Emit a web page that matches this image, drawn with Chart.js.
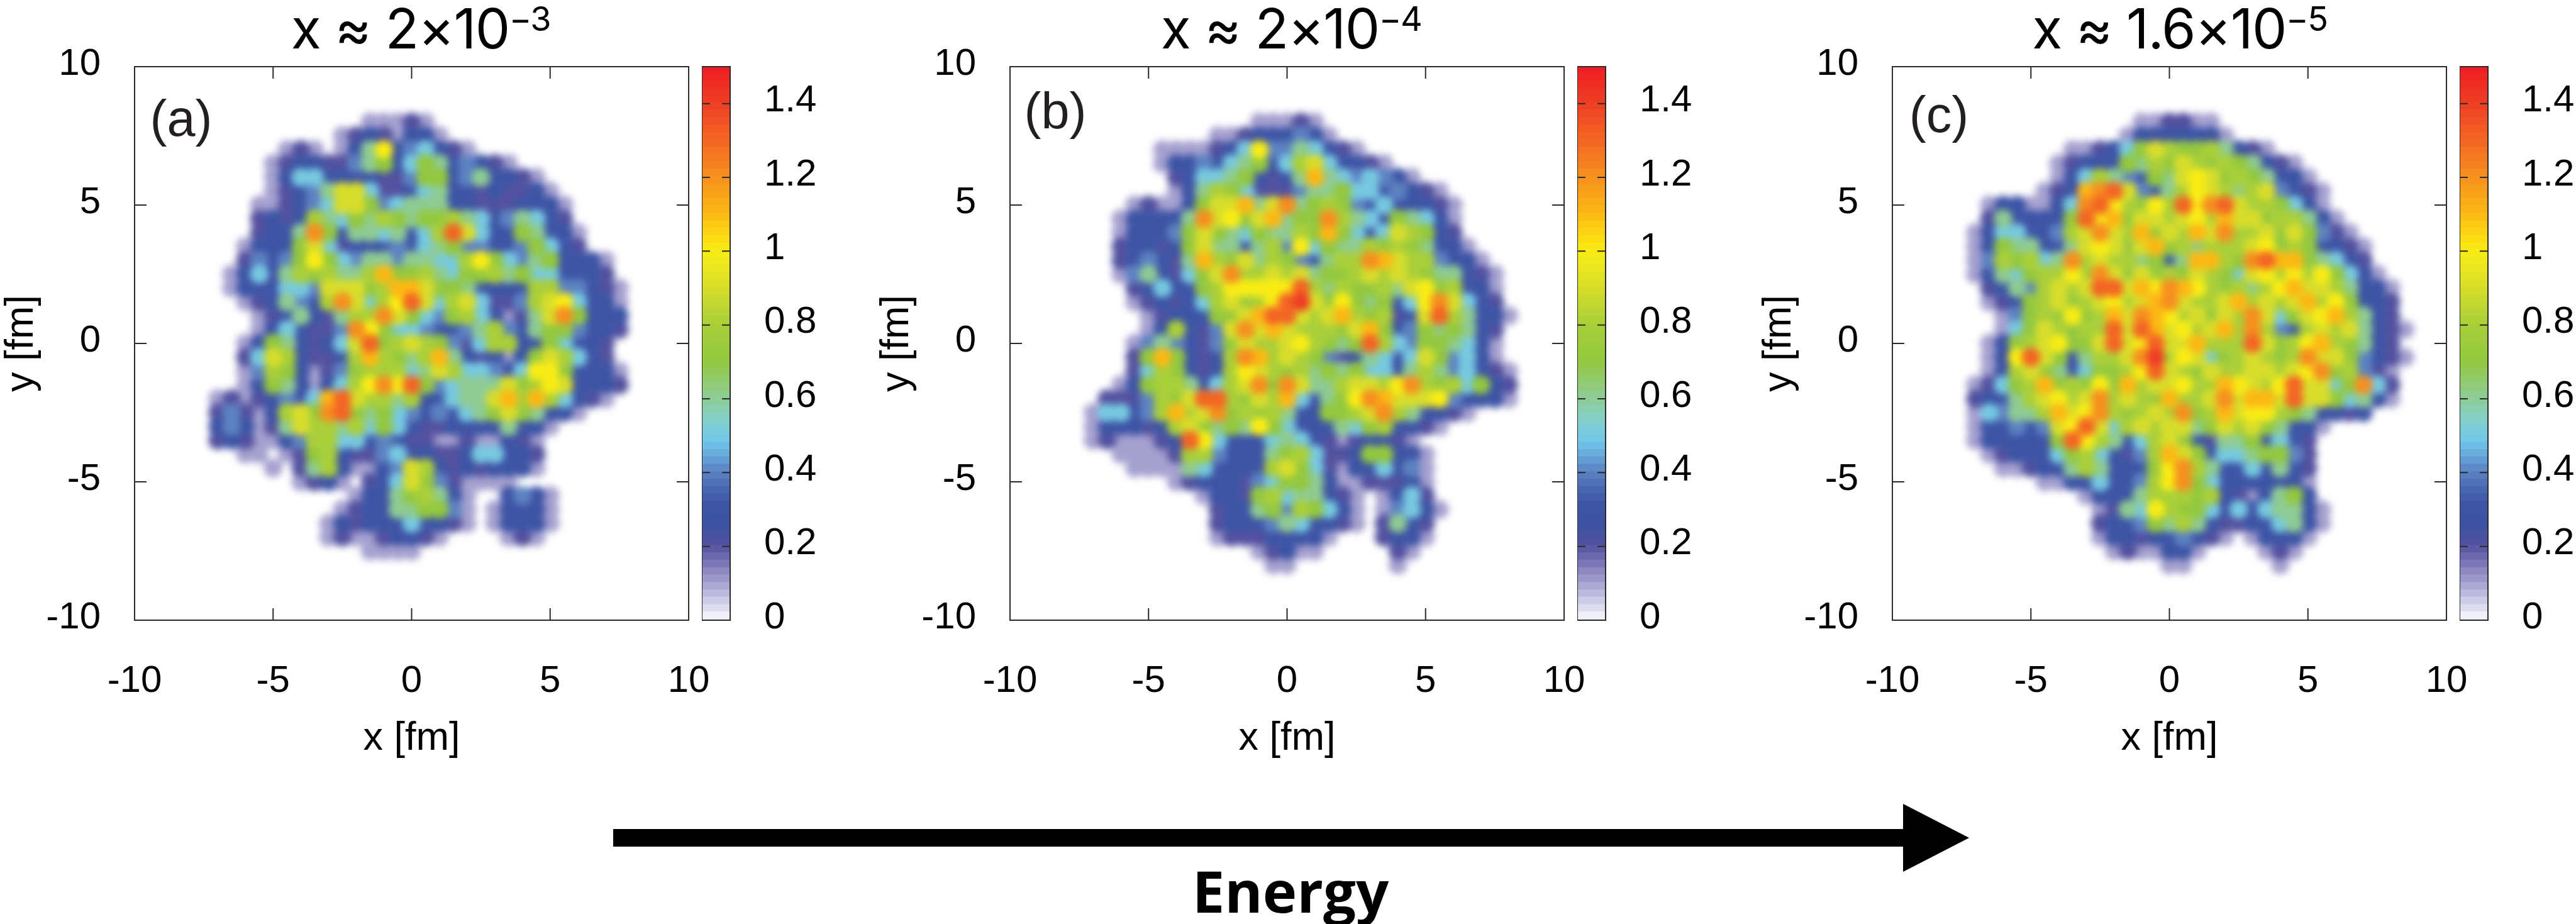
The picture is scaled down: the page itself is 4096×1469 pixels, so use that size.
<!DOCTYPE html>
<html>
<head>
<meta charset="utf-8">
<title>Energy evolution</title>
<script src="https://cdn.jsdelivr.net/npm/chart.js"></script>
<style>
  html, body { margin: 0; padding: 0; background: #fff; width: 4096px; height: 1469px; overflow: hidden; }
  canvas { position: absolute; }
  .panel-title { position: absolute; top: -5px; transform: translateX(-50%); font: 400 88px/100px Inter, sans-serif; color: #000; white-space: nowrap; letter-spacing: -1.5px; }
  .panel-title span { position: relative; top: -28px; font-size: 54px; }
  .panel-tag { position: absolute; transform: translate(-50%, -50%); font: 400 81px/100px "Liberation Sans", sans-serif; color: #231f20; }
  #energy { position: absolute; left: 2052px; top: 1366px; transform: translateX(-50%); font: 700 92px/100px "Open Sans", sans-serif; color: #000; }
  #arrow { position: absolute; left: 0; top: 0; }
</style>
</head>
<body>
<svg id="arrow" width="4096" height="1469"><polygon fill="#000" points="975,1318 3026,1318 3026,1278 3131,1332 3026,1386 3026,1346 975,1346"/></svg>
<div id="energy">Energy</div>
<script>
// axis ticks
const xTicks = [-10, -5, 0, 5, 10];
const yTicks = [-10, -5, 0, 5, 10];
const barTicks = [0, 0.2, 0.4, 0.6, 0.8, 1, 1.2, 1.4];

// cell centres in fm
const colX = [-8, -7.5, -7, -6.5, -6, -5.5, -5, -4.5, -4, -3.5, -3, -2.5, -2, -1.5, -1, -0.5, 0, 0.5, 1, 1.5, 2, 2.5, 3, 3.5, 4, 4.5, 5, 5.5, 6, 6.5, 7, 7.5, 8, 8.5];
const rowY = [8.5, 8, 7.5, 7, 6.5, 6, 5.5, 5, 4.5, 4, 3.5, 3, 2.5, 2, 1.5, 1, 0.5, 0, -0.5, -1, -1.5, -2, -2.5, -3, -3.5, -4, -4.5, -5, -5.5, -6, -6.5, -7, -7.5, -8, -8.5];

// density in tenths, one row per rowY (missing trailing cells are empty)
const densityA = [
[],
[0,0,0,0,0,0,0,0,0,0,0,0,0,1,1,1,2,1],
[0,0,0,0,0,0,0,0,0,0,0,1,2,3,2,1,3,3,1],
[0,0,0,0,0,0,0,1,2,1,0,1,3,6,10,3,4,5,3,2,1],
[0,0,0,0,0,0,1,2,3,3,2,2,4,6,7,3,5,7,6,3,4,3,2,1],
[0,0,0,0,0,0,1,3,5,5,3,3,3,3,2,2,4,7,7,3,4,6,3,3,2,1],
[0,0,0,0,0,0,1,2,3,4,6,9,9,5,2,2,3,5,6,3,3,2,3,2,2,3,1],
[0,0,0,0,0,1,1,2,3,4,5,9,9,7,4,5,6,6,6,3,3,2,2,2,3,3,3,1],
[0,0,0,0,0,2,3,2,3,8,6,5,7,6,8,7,6,7,7,8,6,5,3,4,6,5,3,2],
[0,0,0,0,0,2,3,3,6,12,7,3,6,6,5,6,3,5,8,13,9,5,3,3,7,6,3,3,1],
[0,0,0,0,1,3,3,3,7,9,5,2,3,3,3,4,3,5,6,7,4,4,3,3,4,7,5,3,2],
[0,0,0,0,2,4,3,4,7,10,7,5,4,6,6,4,6,6,5,5,8,10,7,5,4,6,7,3,3,3,1],
[0,0,0,1,3,5,3,6,8,7,8,6,6,8,11,7,7,8,6,5,7,7,8,6,7,5,5,3,3,3,2],
[0,0,0,1,3,3,3,5,5,4,9,9,9,7,8,11,11,9,7,7,6,3,3,3,3,8,8,4,4,3,2,1],
[0,0,0,0,1,2,3,6,4,3,8,12,9,5,8,10,13,9,5,8,9,5,2,2,4,8,9,10,5,3,3,1],
[0,0,0,0,0,1,2,3,6,3,2,6,8,8,12,9,7,5,4,7,8,5,3,1,2,6,9,12,7,3,3,3],
[0,0,0,0,0,1,3,5,3,2,2,4,12,10,7,5,5,4,3,3,4,6,8,4,3,6,7,7,4,3,3,2],
[0,0,0,0,1,3,7,6,3,2,3,5,9,13,7,8,9,8,7,4,2,5,8,8,3,3,7,5,3,3,2],
[0,0,0,0,2,5,9,8,3,2,2,3,8,11,8,7,6,8,11,6,3,2,3,1,3,7,9,8,5,3,2],
[0,0,0,0,1,4,8,7,3,1,2,4,7,8,8,8,5,6,9,8,5,5,4,3,5,10,10,7,3,3,3,1],
[0,0,0,0,1,3,7,6,3,1,3,5,8,10,12,10,13,7,4,5,6,6,6,9,7,8,10,9,3,3,3,2],
[0,0,1,2,1,2,3,4,3,5,11,13,9,8,8,6,8,3,3,5,6,6,9,11,8,11,8,5,3,2,1],
[0,0,2,4,2,1,3,8,9,7,12,13,7,6,7,5,4,3,4,3,5,6,7,9,7,6,3,3,1],
[0,0,3,4,3,1,2,6,9,8,8,6,8,5,7,5,3,2,2,3,3,3,3,6,3,3,1],
[0,0,2,3,2,1,1,3,4,8,8,5,5,3,4,3,2,2,1,1,2,1,1,3,2,1],
[0,0,0,0,1,1,0,1,2,7,8,3,2,2,4,5,3,3,2,2,3,5,5,3,3,2],
[0,0,0,0,0,0,1,0,2,6,8,3,1,1,3,4,9,8,3,2,3,2,3,3,3,1],
[0,0,0,0,0,0,0,0,1,2,3,1,0,2,3,5,9,7,4,2,1,1,1,1],
[0,0,0,0,0,0,0,0,0,0,0,0,1,3,3,6,7,8,6,3,1,0,0,3,4,3,1],
[0,0,0,0,0,0,0,0,0,0,0,1,2,3,3,6,6,7,7,4,1,0,1,3,3,3,1],
[0,0,0,0,0,0,0,0,0,0,1,3,2,3,3,3,5,3,3,2,1,0,1,3,3,3,1],
[0,0,0,0,0,0,0,0,0,0,1,2,1,1,2,3,3,2,1,0,0,0,0,1,2,1],
[0,0,0,0,0,0,0,0,0,0,0,0,0,1,1,1,1],
[],
[]
];

const densityB = [
[],
[0,0,0,0,0,0,0,0,0,0,0,0,0,0,1,1,1,2,1],
[0,0,0,0,0,0,0,0,0,0,0,1,1,2,3,3,3,4,3,1],
[0,0,0,0,0,0,0,1,1,1,1,2,3,5,10,4,4,6,5,3,2,1],
[0,0,0,0,0,0,0,1,3,3,4,3,5,6,7,3,5,8,9,5,3,3,2,1],
[0,0,0,0,0,0,0,0,2,3,5,5,6,7,3,2,3,6,11,6,5,4,5,4,3,1],
[0,0,0,0,0,0,0,0,1,3,6,8,7,5,2,2,2,4,6,6,7,5,5,3,4,3,2,1],
[0,0,0,0,0,1,2,1,1,3,7,9,9,11,6,9,12,6,7,8,7,4,3,5,3,3,3,2,1],
[0,0,0,0,1,3,3,3,3,6,12,9,10,7,9,11,6,7,7,12,8,6,5,3,7,6,5,3,1],
[0,0,0,0,1,3,3,3,4,7,9,7,6,5,7,6,6,8,7,11,7,5,3,5,9,8,7,3,2],
[0,0,0,0,2,3,3,2,3,7,9,6,6,3,6,8,4,10,5,7,6,6,8,7,8,7,6,3,3,1],
[0,0,0,0,2,3,4,3,2,6,11,8,7,9,6,8,7,4,3,6,8,8,12,11,9,8,8,4,3,3,1],
[0,0,0,0,1,4,6,3,2,5,7,9,12,8,8,9,8,9,6,7,7,8,9,8,9,8,7,6,6,3,2,1],
[0,0,0,0,0,2,3,5,3,3,7,8,10,10,10,10,10,13,8,6,8,7,7,8,6,9,10,7,8,3,3,1],
[0,0,0,0,0,1,2,3,2,3,5,8,9,7,8,10,13,14,9,7,10,7,6,7,3,5,10,12,9,5,3,2],
[0,0,0,0,0,0,1,2,3,3,3,7,7,9,11,13,13,9,8,9,11,8,7,8,2,3,9,13,8,6,3,3,1],
[0,0,0,0,0,0,1,3,8,3,2,4,9,12,9,11,9,8,8,8,7,9,11,7,3,4,7,6,7,6,3,2],
[0,0,0,0,0,1,4,6,4,3,2,4,7,9,8,8,9,10,8,7,6,7,13,8,5,4,7,7,6,5,3,1],
[0,0,0,0,0,2,7,11,7,3,2,3,8,12,11,8,9,8,7,4,2,3,6,5,3,5,9,7,4,5,3,1],
[0,0,0,0,0,2,5,8,7,3,2,3,8,10,9,8,7,8,6,7,6,7,5,5,3,6,8,6,4,5,3,2,1],
[0,0,0,0,1,3,7,8,8,6,3,5,8,9,12,7,12,9,6,6,8,9,9,8,10,12,8,7,8,5,7,3,2],
[0,0,0,2,2,2,4,8,7,9,13,13,8,7,9,8,11,5,3,6,7,10,12,11,9,9,9,10,4,3,3,3,1],
[0,0,1,5,5,3,4,8,11,8,9,12,7,8,7,8,6,3,3,7,7,8,9,12,8,6,3,3,2,1],
[0,0,1,3,3,3,2,3,8,9,7,6,7,6,10,7,5,3,3,3,6,5,7,8,3,3,2,1],
[0,0,1,2,1,1,1,2,3,13,10,5,3,3,3,5,6,5,3,2,1,2,3,3,2,1],
[0,0,0,0,1,1,1,1,2,8,8,4,3,3,3,6,7,8,5,2,2,3,7,7,3,3,1],
[0,0,0,0,0,1,1,1,1,6,5,3,3,3,3,8,9,7,5,2,1,3,3,5,3,4,1],
[0,0,0,0,0,0,0,0,1,2,3,3,3,2,4,5,7,7,6,3,1,1,2,2,2,3,1],
[0,0,0,0,0,0,0,0,0,0,1,3,3,2,7,8,5,6,6,3,2,1,0,1,3,5,2],
[0,0,0,0,0,0,0,0,0,0,0,2,3,3,6,7,4,8,7,5,3,1,0,1,4,5,3,1],
[0,0,0,0,0,0,0,0,0,0,0,2,3,3,3,4,6,5,3,3,2,1,0,2,6,3,2],
[0,0,0,0,0,0,0,0,0,0,0,1,2,2,2,3,3,3,3,1,0,0,0,2,3,3,1],
[0,0,0,0,0,0,0,0,0,0,0,0,0,0,1,2,3,1,1,0,0,0,0,0,2,1],
[0,0,0,0,0,0,0,0,0,0,0,0,0,0,0,1,1,0,0,0,0,0,0,0,1],
[]
];

const densityC = [
[],
[0,0,0,0,0,0,0,0,0,0,0,0,0,0,1,1,2,2,1,1],
[0,0,0,0,0,0,0,0,0,0,0,0,0,1,3,3,3,3,3,3,1],
[0,0,0,0,0,0,0,0,0,1,1,2,3,5,7,9,8,7,7,8,6,3,2,1],
[0,0,0,0,0,0,0,0,1,2,3,3,3,7,6,8,7,9,8,7,8,7,6,3,2,1],
[0,0,0,0,0,0,0,0,1,3,5,8,6,4,3,7,6,9,10,9,7,8,7,6,3,3,1],
[0,0,0,0,0,0,0,1,2,3,11,12,13,9,4,3,6,8,10,9,8,6,8,9,4,3,2,1],
[0,0,0,1,3,3,1,1,3,5,12,13,10,8,7,10,8,13,10,12,13,9,8,8,7,5,3,1],
[0,0,0,2,6,3,3,3,3,7,13,10,11,7,9,9,8,9,10,8,11,9,9,7,8,8,6,3,1],
[0,0,1,3,5,5,3,3,4,8,9,12,9,8,11,7,9,8,11,9,12,8,8,9,7,9,7,4,2,1],
[0,0,1,3,7,6,6,3,3,6,9,10,9,7,9,11,7,8,6,8,8,8,9,10,7,8,7,3,3,2,1],
[0,0,1,4,8,7,8,5,6,12,8,9,8,8,6,7,3,6,11,11,8,7,12,13,11,11,7,6,5,3,2],
[0,0,1,3,6,5,7,8,8,10,8,12,9,7,9,7,8,7,9,8,7,5,9,10,8,10,8,10,7,5,3,1],
[0,0,0,2,3,6,4,8,9,8,9,13,13,9,11,10,12,11,10,8,7,8,6,8,10,11,9,9,8,6,3,3,1],
[0,0,0,1,2,3,7,8,9,7,8,9,10,8,9,11,12,9,8,8,9,11,8,9,8,9,11,8,10,7,3,3,2],
[0,0,0,0,1,4,7,8,7,10,7,8,11,9,12,11,10,8,9,7,9,8,12,9,5,7,9,10,11,8,6,3,2],
[0,0,0,0,1,5,7,9,8,7,8,8,13,9,13,11,9,10,8,9,11,8,12,8,4,3,8,9,8,9,6,3,2,1],
[0,0,0,1,3,7,8,9,10,7,7,9,13,9,10,13,9,9,11,8,8,8,13,9,7,8,10,11,8,7,6,3,2],
[0,0,0,1,3,10,13,9,7,3,6,8,8,9,12,14,8,10,9,5,7,8,9,8,7,8,12,9,9,7,4,3,2,1],
[0,0,0,1,3,8,9,7,6,3,5,7,7,8,10,13,9,8,7,9,8,8,9,9,8,9,10,12,7,8,4,2,1],
[0,0,1,2,5,7,8,11,7,8,7,10,7,11,8,9,9,10,8,8,11,10,9,8,10,13,9,9,5,7,12,5,2],
[0,0,2,3,3,6,8,9,10,8,9,12,8,9,8,7,11,8,8,9,12,9,11,11,9,13,9,9,7,5,6,3,1],
[0,0,1,5,4,6,6,8,11,9,10,12,8,7,8,9,8,12,7,8,11,9,10,10,8,7,6,3,3,2,3],
[0,0,1,3,3,4,3,4,9,10,13,9,5,8,9,8,9,9,6,7,9,8,9,7,6,3,3,1],
[0,0,1,3,3,3,3,3,7,13,10,8,6,3,5,8,9,7,3,2,6,6,7,3,5,3,2],
[0,0,0,1,2,3,3,3,5,7,8,5,3,2,4,8,11,9,7,3,5,5,6,7,7,4,2],
[0,0,0,0,1,1,2,3,3,6,8,6,3,3,3,7,10,12,8,6,3,3,5,3,6,3,2],
[0,0,0,0,0,0,0,1,1,3,3,5,3,3,4,8,10,12,7,5,3,3,3,3,3,3,1],
[0,0,0,0,0,0,0,0,0,0,1,3,3,3,6,8,8,8,7,8,3,2,1,3,6,7,3],
[0,0,0,0,0,0,0,0,0,0,0,1,2,6,5,10,8,7,7,5,3,5,3,5,6,6,3,1],
[0,0,0,0,0,0,0,0,0,0,0,2,3,3,4,7,6,8,6,3,2,2,3,3,5,6,3,1],
[0,0,0,0,0,0,0,0,0,0,0,1,3,3,2,3,3,4,3,2,1,0,1,3,3,3,1],
[0,0,0,0,0,0,0,0,0,0,0,0,1,2,1,1,3,3,1,0,0,0,0,1,2,1],
[0,0,0,0,0,0,0,0,0,0,0,0,0,0,0,0,1,1,0,0,0,0,0,0,1],
[]
];

// colour palette of the bar: value stops and their colours
const paletteStops = [0, 0.04, 0.1, 0.16, 0.2, 0.26, 0.32, 0.4, 0.48, 0.54, 0.6, 0.7, 0.8, 0.9, 1, 1.1, 1.2, 1.3, 1.4, 1.5];
const paletteColors = ['#f8f8fc', '#d4d2e8', '#a5a0cf', '#746fb3', '#53519f', '#3b51a2', '#3e56a6', '#5c82c2', '#6fc6ec', '#85d0ca', '#8ecb93', '#93c83f', '#a9cf38', '#d8dd2a', '#f9ec14', '#fcb813', '#f68f1e', '#f36523', '#ef3e24', '#ed1c24'];

const titles = [
  { text: 'x ≈ 2×10', power: '−3', centre: 669 },
  { text: 'x ≈ 2×10', power: '−4', centre: 2053 },
  { text: 'x ≈ 1.6×10', power: '−5', centre: 3466 }
];
const tags = [
  { text: '(a)', x: 288, y: 188 },
  { text: '(b)', x: 1678, y: 176 },
  { text: '(c)', x: 3083, y: 182 }
];

// layout of the three panels, in window pixels
const PLOT_TOP = 106;
const PLOT_SIZE = 881;
const PLOT_HEIGHT = 880;
const PAD = 100; // has to stay above half a tick label plus the tick padding
const LEFT_BOX = 217;
const BOTTOM_BOX = 226;
const panels = [
  { data: densityA, plotLeft: 214, barLeft: 1116 },
  { data: densityB, plotLeft: 1606, barLeft: 2508 },
  { data: densityC, plotLeft: 3009, barLeft: 3911 }
];
const BAR_WIDTH = 45;
const FRAME = '#2b2b2b';
const TICK_FONT = { family: '"Liberation Sans"', size: 60 };

const hexToRgb = (hex) => [1, 3, 5].map(i => parseInt(hex.slice(i, i + 2), 16));

// Map a density onto the palette
const colorFor = (v) => {
  let i = 0;
  while (i < paletteStops.length - 2 && v > paletteStops[i + 1]) i++;
  const t = Math.min(1, (v - paletteStops[i]) / (paletteStops[i + 1] - paletteStops[i]));
  const a = hexToRgb(paletteColors[i]);
  const b = hexToRgb(paletteColors[i + 1]);
  return `rgb(${a.map((c, k) => Math.round(c + (b[k] - c) * t)).join(',')})`;
};

// Soften the drawn cells once, blurring per point is far too slow
const softCells = {
  id: 'softCells',
  afterDatasetsDraw(chart) {
    const { ctx, canvas, chartArea: a } = chart;
    const copy = document.createElement('canvas');
    copy.width = canvas.width;
    copy.height = canvas.height;
    copy.getContext('2d').drawImage(canvas, 0, 0);
    ctx.save();
    ctx.clearRect(a.left, a.top, a.width, a.height);
    ctx.beginPath();
    ctx.rect(a.left, a.top, a.width, a.height);
    ctx.clip();
    ctx.filter = 'blur(6px)';
    ctx.drawImage(copy, a.left, a.top, a.width, a.height, a.left, a.top, a.width, a.height);
    ctx.restore();
  }
};

// Frame with gnuplot style inward ticks on all four sides
const frameTicks = {
  id: 'frameTicks',
  afterDraw(chart) {
    const { ctx, chartArea: a, scales } = chart;
    ctx.save();
    ctx.strokeStyle = FRAME;
    ctx.lineWidth = 2;
    ctx.strokeRect(a.left, a.top, a.width, a.height);
    ctx.beginPath();
    xTicks.forEach(v => {
      const px = scales.x.getPixelForValue(v);
      ctx.moveTo(px, a.bottom); ctx.lineTo(px, a.bottom - 19);
      ctx.moveTo(px, a.top); ctx.lineTo(px, a.top + 19);
    });
    yTicks.forEach(v => {
      const py = scales.y.getPixelForValue(v);
      ctx.moveTo(a.left, py); ctx.lineTo(a.left + 19, py);
      ctx.moveTo(a.right, py); ctx.lineTo(a.right - 19, py);
    });
    ctx.stroke();
    ctx.restore();
  }
};

const barFrame = {
  id: 'barFrame',
  afterDraw(chart) {
    const { ctx, chartArea: a, scales } = chart;
    ctx.save();
    ctx.strokeStyle = FRAME;
    ctx.lineWidth = 2;
    ctx.strokeRect(a.left, a.top, a.width, a.height);
    ctx.beginPath();
    barTicks.slice(1).forEach(v => {
      const py = scales.y.getPixelForValue(v);
      ctx.moveTo(a.left, py); ctx.lineTo(a.left + 13, py);
      ctx.moveTo(a.right, py); ctx.lineTo(a.right - 13, py);
    });
    ctx.stroke();
    ctx.restore();
  }
};

const addCanvas = (left, top, width, height) => {
  const c = document.createElement('canvas');
  c.width = width;
  c.height = height;
  c.style.left = left + 'px';
  c.style.top = top + 'px';
  document.body.appendChild(c);
  return c;
};

// One heat panel, every cell is a round scatter point, hottest drawn last
const renderPanel = (panel) => {
  const cells = [];
  panel.data.forEach((row, r) => row.forEach((v, c) => {
    if (v > 0) cells.push({ x: colX[c], y: rowY[r], v: v / 10 });
  }));
  cells.sort((p, q) => p.v - q.v);

  const canvas = addCanvas(panel.plotLeft - LEFT_BOX, PLOT_TOP - PAD, LEFT_BOX + PLOT_SIZE + PAD, PAD + PLOT_HEIGHT + BOTTOM_BOX);
  new Chart(canvas, {
    type: 'scatter',
    plugins: [softCells, frameTicks],
    data: {
      datasets: [{
        data: cells,
        pointStyle: 'circle',
        pointRadius: 15,
        pointBorderWidth: 0,
        pointBackgroundColor: cells.map(p => colorFor(p.v))
      }]
    },
    options: {
      responsive: false,
      animation: false,
      layout: { padding: { top: PAD, right: PAD, left: 0, bottom: 0 } },
      plugins: { legend: { display: false }, tooltip: { enabled: false } },
      scales: {
        x: {
          type: 'linear', min: -10, max: 10,
          grid: { display: false }, border: { display: false },
          afterBuildTicks: (axis) => { axis.ticks = xTicks.map(value => ({ value })); },
          afterFit: (axis) => { axis.height = BOTTOM_BOX; },
          ticks: { font: TICK_FONT, color: '#000', padding: 53, maxRotation: 0, autoSkip: false, callback: (v) => String(v) },
          title: { display: true, text: 'x [fm]', color: '#000', padding: 0, font: { family: '"Liberation Sans"', size: 63 } }
        },
        y: {
          type: 'linear', min: -10, max: 10,
          grid: { display: false }, border: { display: false },
          afterBuildTicks: (axis) => { axis.ticks = yTicks.map(value => ({ value })); },
          afterFit: (axis) => { axis.width = LEFT_BOX; },
          ticks: { font: TICK_FONT, color: '#000', padding: 46, labelOffset: -4, autoSkip: false, callback: (v) => String(v) },
          title: { display: true, text: 'y [fm]', color: '#000', padding: 0, font: { family: '"Liberation Sans"', size: 63 } }
        }
      }
    }
  });
};

// Colour bar, built from floating bars on its own linear axis
const renderBar = (left) => {
  const step = 0.02;
  const bands = Array.from({ length: 75 }, (_, i) => i * step);
  const canvas = addCanvas(left, PLOT_TOP - PAD, BAR_WIDTH + 200, PAD + PLOT_HEIGHT + PAD);
  new Chart(canvas, {
    type: 'bar',
    plugins: [barFrame],
    data: {
      labels: ['density'],
      datasets: bands.map(lo => ({
        data: [[lo, Math.min(1.5, lo + step + 0.003)]],
        backgroundColor: colorFor(lo + step / 2),
        barPercentage: 1,
        categoryPercentage: 1,
        borderWidth: 0
      }))
    },
    options: {
      responsive: false,
      animation: false,
      layout: { padding: { top: PAD, bottom: PAD, left: 0, right: 0 } },
      plugins: { legend: { display: false }, tooltip: { enabled: false } },
      scales: {
        x: { display: false, stacked: true },
        y: {
          type: 'linear', position: 'right', min: 0, max: 1.5,
          grid: { display: false }, border: { display: false },
          afterBuildTicks: (axis) => { axis.ticks = barTicks.map(value => ({ value })); },
          afterFit: (axis) => { axis.width = 200; },
          ticks: { font: TICK_FONT, color: '#000', padding: 46, labelOffset: -4, autoSkip: false, callback: (v) => String(v) }
        }
      }
    }
  });
};

panels.forEach(p => {
  renderPanel(p);
  renderBar(p.barLeft);
});

titles.forEach(t => {
  const d = document.createElement('div');
  d.className = 'panel-title';
  d.style.left = t.centre + 'px';
  d.textContent = t.text;
  const s = document.createElement('span');
  s.textContent = t.power;
  d.appendChild(s);
  document.body.appendChild(d);
});

tags.forEach(t => {
  const d = document.createElement('div');
  d.className = 'panel-tag';
  d.style.left = t.x + 'px';
  d.style.top = t.y + 'px';
  d.textContent = t.text;
  document.body.appendChild(d);
});
</script>
</body>
</html>
